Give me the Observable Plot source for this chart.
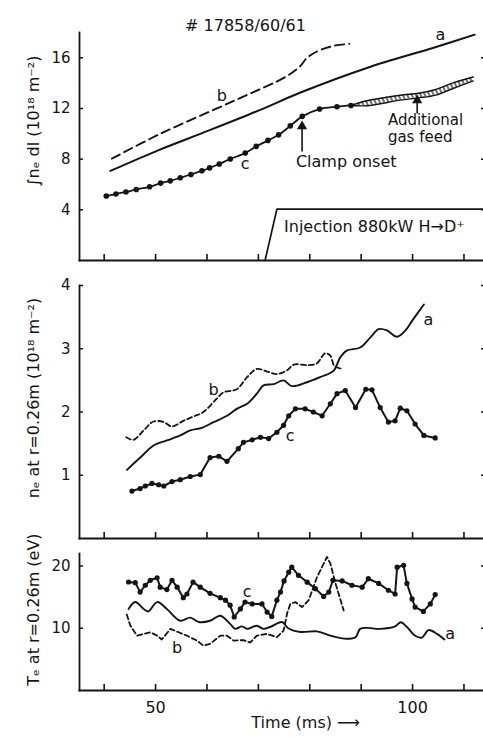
<!DOCTYPE html>
<html><head><meta charset="utf-8">
<script src="https://cdn.jsdelivr.net/npm/d3@7"></script>
<script src="https://cdn.jsdelivr.net/npm/@observablehq/plot@0.6"></script>
<style>
body{margin:0;background:#fff;}
#chart{width:483px;}
#chart svg{display:block;}
</style></head><body><div id="chart"></div>
<script>
// ---------- shared ----------
const title = "# 17858/60/61";
const titleT = 67.5;
const timeDomain = [35.2, 113.8];
const timeTicks = [40, 50, 60, 70, 80, 90, 100, 110];
const timeLabels = [50, 100];
const xTitle = "Time (ms) \u27F6";
const xTitleT = 79.2;

// ---------- top panel: line integral density ----------
const topDomain = [0, 18];
const topTicks = [4, 8, 12, 16];
const topTitle = "\u222Bn\u2091 dl (10\u00B9\u2078 m\u207B\u00B2)";
const topTitleV = 11.0;
const topA_t = [41.2, 50.5, 58.7, 70.0, 78.2, 91.1, 104.1, 112.1];
const topA_v = [7.07, 8.7, 10.0, 11.83, 13.26, 15.2, 16.8, 17.83];
const topB_t = [41.5, 50.9, 65.2, 75.6, 78.15, 79.45, 81.4, 83.35, 85.3, 87.7];
const topB_v = [8.04, 10.0, 12.6, 14.57, 15.35, 16.0, 16.5, 16.8, 17.0, 17.1];
const topC_t = [40.41, 42.29, 44.24, 46.25, 48.84, 50.98, 52.86, 54.81, 56.88, 59.02, 60.51, 62.39, 64.53, 67.45, 69.59, 71.86, 73.94, 76.21, 78.54, 81.91, 85.29, 88.01];
const topC_v = [5.09, 5.25, 5.41, 5.61, 5.82, 6.11, 6.29, 6.53, 6.79, 7.08, 7.31, 7.62, 8.01, 8.49, 9.01, 9.48, 9.92, 10.63, 11.38, 11.96, 12.14, 12.24];
const gas_t = [88.0, 91.1, 97.6, 101.2, 104.5, 108.0, 111.8];
const gasUpper = [12.24, 12.61, 13.05, 13.2, 13.5, 14.04, 14.49];
const gasLower = [12.24, 12.22, 12.66, 12.84, 13.06, 13.6, 14.18];
const inj_t = [71.3, 73.6, 113.8];
const inj_v = [0, 4.05, 4.05];
const injText = "Injection 880kW H\u2192D\u207A";
const injT = 75.0, injV = 2.69;
const clampText = "Clamp onset";
const clampT = 77.3, clampV = 7.78;
const clampArrowT = 78.5, clampArrowFrom = 8.6, clampArrowTo = 10.75;
const gasText = ["Additional", "gas feed"];
const gasTextT = 95.2;
const gasTextV = [11.1, 9.7];
const gasArrowT = 100.9, gasArrowFrom = 11.6, gasArrowTo = 12.8;
const topLabels = ["a", "b", "c"];
const topLabelT = [105.4, 62.9, 67.45];
const topLabelV = [17.83, 13.0, 7.65];

// ---------- middle panel: n_e at r = 0.26 m ----------
const midDomain = [0, 4];
const midTicks = [1, 2, 3, 4];
const midTitle = "n\u2091 at r=0.26m (10\u00B9\u2078 m\u207B\u00B2)";
const midTitleV = 2.22;
const midA_t = [44.44, 47.02, 49.61, 52.2, 54.8, 56.75, 59.0, 61.3, 63.9, 65.8, 67.8, 69.7, 71.0, 73.0, 74.9, 76.5, 79.45, 82.0, 84.6, 85.9, 87.2, 89.8, 91.8, 93.4, 95.0, 96.97, 98.6, 99.9, 102.2];
const midA_v = [1.085, 1.28, 1.47, 1.55, 1.63, 1.71, 1.75, 1.84, 1.94, 2.05, 2.13, 2.29, 2.42, 2.44, 2.50, 2.41, 2.47, 2.55, 2.65, 2.86, 2.97, 3.02, 3.18, 3.31, 3.29, 3.19, 3.29, 3.44, 3.70];
const midB_t = [44.3, 45.7, 47.7, 49.6, 51.6, 53.2, 55.4, 57.4, 59.3, 61.9, 63.2, 65.8, 67.8, 69.7, 71.7, 73.6, 75.6, 76.9, 79.5, 81.4, 83.0, 84.0, 84.8, 86.4];
const midB_v = [1.60, 1.56, 1.71, 1.85, 1.84, 1.77, 1.86, 1.93, 2.0, 2.21, 2.31, 2.36, 2.55, 2.68, 2.64, 2.60, 2.66, 2.75, 2.74, 2.77, 2.93, 2.89, 2.73, 2.68];
const midC_t = [45.4, 47.0, 48.0, 49.3, 50.6, 51.6, 53.2, 54.8, 56.75, 58.7, 60.6, 62.3, 63.9, 66.1, 67.1, 68.8, 70.4, 72.0, 73.6, 74.9, 75.9, 77.2, 79.1, 80.7, 82.4, 84.0, 85.3, 86.9, 88.9, 90.9, 92.1, 93.7, 95.3, 96.6, 97.6, 98.9, 100.5, 102.2, 104.4];
const midC_v = [0.75, 0.79, 0.83, 0.87, 0.85, 0.83, 0.90, 0.93, 0.98, 1.01, 1.28, 1.30, 1.22, 1.42, 1.52, 1.56, 1.60, 1.58, 1.68, 1.79, 1.94, 2.05, 2.05, 2.0, 1.94, 2.13, 2.29, 2.34, 2.07, 2.36, 2.35, 2.07, 1.84, 1.86, 2.06, 2.02, 1.81, 1.63, 1.59];
const midLabels = ["a", "b", "c"];
const midLabelT = [103.1, 61.3, 76.2];
const midLabelV = [3.45, 2.35, 1.63];

// ---------- bottom panel: T_e at r = 0.26 m ----------
const botDomain = [0, 22];
const botTicks = [10, 20];
const botTitle = "T\u2091 at r=0.26m (eV)";
const botTitleV = 13.0;
const botA_t = [44.75, 46.05, 47.7, 48.6, 50.3, 52.2, 54.8, 56.75, 58.4, 60.6, 62.6, 64.5, 65.5, 66.8, 67.8, 69.7, 71.0, 72.3, 74.6, 75.8, 78.2, 81.4, 84.0, 87.2, 88.9, 89.8, 91.1, 93.7, 96.6, 97.7, 98.9, 100.5, 101.8, 103.1, 104.75, 106.2];
const botA_v = [13.1, 14.2, 13.1, 12.7, 14.2, 13.1, 11.2, 11.7, 11.0, 11.2, 12.0, 10.7, 9.9, 10.3, 9.9, 10.4, 9.9, 10.2, 11.0, 10.0, 9.4, 9.5, 8.8, 8.3, 8.55, 9.9, 10.06, 9.9, 10.3, 10.97, 10.2, 8.8, 8.5, 9.7, 9.1, 8.2];
const botB_t = [44.4, 45.1, 46.4, 47.7, 49.0, 50.3, 51.2, 52.9, 54.5, 56.1, 58.1, 59.3, 60.6, 62.6, 63.9, 65.2, 67.1, 68.4, 69.7, 71.7, 73.6, 74.9, 75.6, 76.2, 77.2, 78.5, 79.8, 81.4, 83.35, 84.0, 85.0, 86.6];
const botB_v = [12.2, 10.4, 8.8, 9.1, 9.35, 8.8, 8.2, 9.9, 9.35, 8.8, 8.0, 7.2, 7.5, 8.8, 8.8, 8.0, 8.1, 7.7, 8.8, 9.1, 8.55, 9.6, 12.4, 13.9, 14.2, 13.4, 14.5, 18.2, 21.45, 20.4, 17.2, 12.85];
const botC_t = [44.75, 46.05, 47.0, 48.0, 48.97, 50.3, 50.9, 52.2, 53.2, 54.2, 55.4, 56.1, 57.3, 58.7, 60.6, 62.6, 63.6, 64.5, 65.3, 66.5, 67.4, 68.8, 70.7, 71.7, 72.6, 73.6, 74.3, 75.0, 75.9, 76.5, 77.8, 79.5, 81.1, 82.7, 83.7, 84.5, 86.3, 88.2, 90.2, 91.4, 93.4, 95.3, 96.6, 97.0, 98.25, 98.9, 99.9, 100.5, 102.1, 103.45, 104.4];
const botC_v = [17.42, 17.32, 15.8, 16.9, 17.7, 18.1, 16.6, 16.2, 17.7, 16.6, 14.9, 15.5, 17.4, 16.6, 15.6, 14.9, 14.5, 13.7, 11.8, 13.1, 14.2, 13.9, 13.9, 12.6, 11.9, 14.5, 15.8, 17.6, 19.0, 19.8, 18.5, 17.4, 16.35, 15.1, 15.8, 17.7, 17.6, 16.9, 16.6, 17.95, 17.2, 16.1, 15.5, 19.8, 20.1, 17.2, 14.7, 13.4, 12.7, 13.9, 15.4];
const botLabels = ["a", "b", "c"];
const botLabelT = [107.3, 54.2, 67.8];
const botLabelV = [9.1, 6.9, 15.8];

// ---------- helpers ----------
const INK = "#141414";
const FONT = "DejaVu Sans, sans-serif";
const zip = (ts, vs) => ts.map((t, i) => ({t, v: vs[i]}));
const labelRows = (texts, ts, vs) => texts.map((s, i) => ({s, t: ts[i], v: vs[i]}));

function frameAndAxes(yTicks, showXLabels) {
  return [
    Plot.frame({anchor: "left", stroke: INK, strokeWidth: 1.8}),
    Plot.frame({anchor: "bottom", stroke: INK, strokeWidth: 1.8}),
    Plot.axisY({ticks: yTicks, anchor: "left", tickSize: -4, tickPadding: 13, fontSize: 15, label: null, stroke: INK, fill: INK, strokeWidth: 1.5, tickFormat: (d) => String(d)}),
    Plot.axisY({ticks: yTicks, anchor: "right", tickSize: -3, tickFormat: () => "", label: null, stroke: INK, strokeWidth: 1.5}),
    Plot.axisX({ticks: timeTicks, anchor: "bottom", tickSize: -6, tickPadding: 17, fontSize: 16, label: null, stroke: INK, fill: INK, strokeWidth: 1.6,
      tickFormat: (d) => (showXLabels && timeLabels.includes(d)) ? String(d) : ""})
  ];
}
function yTitleMark(text, v) {
  return Plot.text([text], {y: () => v, frameAnchor: "left", dx: -46, rotate: -90, textAnchor: "middle", lineAnchor: "middle", fontSize: 16, fill: INK});
}
function labelMarks(rows, anchor = "middle") {
  return Plot.text(rows, {x: "t", y: "v", text: "s", fontSize: 16, fill: INK, textAnchor: anchor, lineAnchor: "middle"});
}
function arrowMarks(t, from, to) {
  return [
    Plot.link([{t, from, to}], {x1: "t", x2: "t", y1: "from", y2: "to", stroke: INK, strokeWidth: 1.6}),
    Plot.dot([{t, to}], {x: "t", y: "to", symbol: "triangle", r: 3.8, fill: INK, stroke: null, dy: 2})
  ];
}
const hatchDefs = () => {
  const defs = d3.create("svg:defs");
  const p = defs.append("pattern").attr("id", "hatch").attr("patternUnits", "userSpaceOnUse")
    .attr("width", 4).attr("height", 8).attr("patternTransform", "rotate(-25)");
  p.append("line").attr("x1", 1).attr("y1", 0).attr("x2", 1).attr("y2", 8).attr("stroke", INK).attr("stroke-width", 1.2);
  return defs.node();
};

const common = {width: 483, marginLeft: 79, marginRight: 0,
  style: {fontFamily: FONT, color: INK, background: "white", overflow: "visible"}};

// ---------- top ----------
const gasRows = gas_t.map((t, i) => ({t, lo: gasLower[i], hi: gasUpper[i]}));
const plotTop = Plot.plot({
  ...common, height: 270, marginTop: 32, marginBottom: 10,
  x: {domain: timeDomain},
  y: {domain: topDomain},
  marks: [
    hatchDefs,
    ...frameAndAxes(topTicks, false),
    Plot.areaY(gasRows, {x: "t", y1: "lo", y2: "hi", fill: "url(#hatch)", curve: "catmull-rom"}),
    Plot.line(gasRows, {x: "t", y: "lo", stroke: INK, strokeWidth: 1.4, curve: "catmull-rom"}),
    Plot.line(gasRows, {x: "t", y: "hi", stroke: INK, strokeWidth: 1.4, curve: "catmull-rom"}),
    Plot.line(zip(inj_t, inj_v), {x: "t", y: "v", stroke: INK, strokeWidth: 1.7}),
    Plot.line(zip(topA_t, topA_v), {x: "t", y: "v", stroke: INK, strokeWidth: 2, curve: "catmull-rom"}),
    Plot.line(zip(topB_t, topB_v), {x: "t", y: "v", stroke: INK, strokeWidth: 1.9, strokeDasharray: "9,5", curve: "catmull-rom"}),
    Plot.line(zip(topC_t, topC_v), {x: "t", y: "v", stroke: INK, strokeWidth: 1.8, curve: "catmull-rom"}),
    Plot.dot(zip(topC_t, topC_v), {x: "t", y: "v", r: 2.8, fill: INK}),
    ...arrowMarks(clampArrowT, clampArrowFrom, clampArrowTo),
    ...arrowMarks(gasArrowT, gasArrowFrom, gasArrowTo),
    labelMarks(labelRows(topLabels, topLabelT, topLabelV)),
    Plot.text([{s: clampText, t: clampT, v: clampV}], {x: "t", y: "v", text: "s", fontSize: 16, fill: INK, textAnchor: "start"}),
    Plot.text(labelRows(gasText, [gasTextT, gasTextT], gasTextV), {x: "t", y: "v", text: "s", fontSize: 15, lineAnchor: "middle", fill: INK, textAnchor: "start"}),
    Plot.text([{s: injText, t: injT, v: injV}], {x: "t", y: "v", text: "s", fontSize: 16, fill: INK, textAnchor: "start"}),
    Plot.text([{s: title, t: titleT}], {x: "t", text: "s", frameAnchor: "top", dy: -13, fontSize: 16, fill: INK, textAnchor: "middle"}),
    yTitleMark(topTitle, topTitleV)
  ]
});

// ---------- middle ----------
const plotMid = Plot.plot({
  ...common, height: 275, marginTop: 15, marginBottom: 7,
  x: {domain: timeDomain},
  y: {domain: midDomain},
  marks: [
    ...frameAndAxes(midTicks, false),
    Plot.line(zip(midA_t, midA_v), {x: "t", y: "v", stroke: INK, strokeWidth: 1.9, curve: "catmull-rom"}),
    Plot.line(zip(midB_t, midB_v), {x: "t", y: "v", stroke: INK, strokeWidth: 1.8, strokeDasharray: "5,3", curve: "catmull-rom"}),
    Plot.line(zip(midC_t, midC_v), {x: "t", y: "v", stroke: INK, strokeWidth: 2}),
    Plot.dot(zip(midC_t, midC_v), {x: "t", y: "v", r: 2.6, fill: INK}),
    labelMarks(labelRows(midLabels, midLabelT, midLabelV)),
    yTitleMark(midTitle, midTitleV)
  ]
});

// ---------- bottom ----------
const plotBot = Plot.plot({
  ...common, height: 192, marginTop: 8, marginBottom: 47,
  x: {domain: timeDomain},
  y: {domain: botDomain},
  marks: [
    ...frameAndAxes(botTicks, true),
    Plot.line(zip(botA_t, botA_v), {x: "t", y: "v", stroke: INK, strokeWidth: 1.9, curve: "catmull-rom"}),
    Plot.line(zip(botB_t, botB_v), {x: "t", y: "v", stroke: INK, strokeWidth: 1.8, strokeDasharray: "5,3"}),
    Plot.line(zip(botC_t, botC_v), {x: "t", y: "v", stroke: INK, strokeWidth: 2}),
    Plot.dot(zip(botC_t, botC_v), {x: "t", y: "v", r: 2.6, fill: INK}),
    labelMarks(labelRows(botLabels, botLabelT, botLabelV)),
    Plot.text([{s: xTitle, t: xTitleT}], {x: "t", text: "s", frameAnchor: "bottom", dy: 37, fontSize: 16, fill: INK, textAnchor: "middle"}),
    yTitleMark(botTitle, botTitleV)
  ]
});

const root = document.getElementById("chart");
root.append(plotTop, plotMid, plotBot);
</script>
</body></html>
